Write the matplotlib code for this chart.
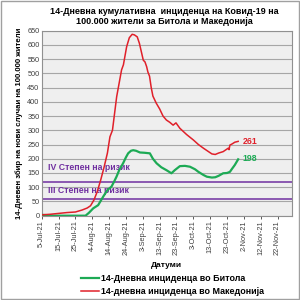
import numpy as np
import pandas as pd
import matplotlib.pyplot as plt
from matplotlib.patches import Rectangle

plt.rcParams['font.family'] = ['Liberation Sans', 'DejaVu Sans']

# days counted from 5-Jul-2021
start = pd.Timestamp('2021-07-05')

red_days = [0, 5, 10, 15, 20, 24, 27, 29, 31, 33, 35, 37, 39, 40.5, 42, 44.5, 47.4, 48.5,
            50.4, 52, 53.7, 55, 56.7, 58, 60.3, 61.3, 62.3, 63, 64, 65, 66, 68, 70, 72,
            74, 76, 78, 79.7, 82, 86, 90, 93, 96, 99, 101, 103, 105, 107.7, 110.7, 111.2,
            111.7, 113, 114.6, 116.6]
red_vals = [3, 5, 8, 11, 13, 20, 27, 35, 55, 85, 125, 170, 220, 277, 300, 418, 512, 530,
            593, 625, 637, 635, 628, 605, 546, 540, 523, 505, 490, 450, 420, 395, 375, 350,
            336, 328, 318, 326, 307, 285, 266, 250, 237, 225, 217, 215, 220, 225, 237, 232,
            248, 252, 258, 261]

green_days = [0, 3, 7, 26, 28, 30.6, 33.5, 36.5, 39, 41.4, 43, 44.4, 46, 48.3, 50, 51.3,
              53, 54.3, 56, 58.3, 61, 64.2, 66, 68.2, 71, 74, 77, 79, 82, 85, 88, 91, 93,
              96, 98, 101, 103, 105, 107.7, 110, 111.7, 113, 114.6, 116.6]
green_vals = [3, 2, 0, 0, 10, 26, 37, 67, 90, 102, 120, 137, 160, 184, 205, 219,
              228, 230, 228, 222, 221, 219, 200, 184, 170, 160, 149, 160, 174, 175, 172, 163, 154,
              143, 137, 134, 135, 140, 149, 150, 154, 165, 178, 198]

risk_levels = [120, 60]
risk_labels = ['IV Степен на ризик', 'III Степен на ризик']

red_dates = [start + pd.Timedelta(days=d) for d in red_days]
green_dates = [start + pd.Timedelta(days=d) for d in green_days]

fig = plt.figure(figsize=(3, 3), dpi=100)
fig.patches.append(Rectangle((0.002, 0.002), 0.996, 0.996, transform=fig.transFigure,
                             fill=False, ec='#A0A0A0', lw=1))
ax = fig.add_axes([0.139, 0.281, 0.834, 0.617])
ax.set_facecolor('#EFEFEF')

purple = '#7030A0'
for lvl in risk_levels:
    ax.axhline(lvl, color=purple, lw=1.1, zorder=2)
ax.text(start + pd.Timedelta(days=4), 170, risk_labels[0], color=purple,
        fontsize=6.3, fontweight='bold', va='center', zorder=3)
ax.text(start + pd.Timedelta(days=4), 89, risk_labels[1], color=purple,
        fontsize=6.3, fontweight='bold', va='center', zorder=3)

ax.plot(green_dates, green_vals, color='#1DAA55', lw=1.6, zorder=4,
        label='14-Дневна инциденца во Битола')
ax.plot(red_dates, red_vals, color='#E0202A', lw=1.1, zorder=5,
        label='14-дневна инциденца во Македонија')

ax.text(red_dates[-1] + pd.Timedelta(days=2.5), red_vals[-1], str(red_vals[-1]),
        color='#E0202A', fontsize=6.3, fontweight='bold', va='center')
ax.text(green_dates[-1] + pd.Timedelta(days=2.5), green_vals[-1] + 3, str(green_vals[-1]),
        color='#1DAA55', fontsize=6.3, fontweight='bold', va='center')

ax.set_ylim(0, 650)
ax.set_yticks(np.arange(0, 651, 50))
ax.set_xlim(start, start + pd.Timedelta(days=148.5))
ticks = [start + pd.Timedelta(days=10 * i) for i in range(15)]
ax.set_xticks(ticks)
ax.set_xticklabels([t.strftime('%-d-%b-%y') for t in ticks], rotation=90)
ax.grid(axis='y', color='#A6A6A6', lw=0.8)
ax.set_axisbelow(True)
ax.tick_params(labelsize=5.3, colors='#404040', length=2, width=0.6, pad=1.5)
ax.tick_params(axis='y', length=0)
for s in ax.spines.values():
    s.set_color('#909090')
    s.set_linewidth(0.8)

ax.set_ylabel('14-Дневен збир на нови случаи на 100.000 жители', fontsize=5.6,
              fontweight='bold', labelpad=3)
ax.set_xlabel('Датуми', fontsize=6, fontweight='bold', labelpad=5)

fig.text(0.547, 0.945, '14-Дневна кумулативна  инциденца на Ковид-19 на\n100.000 жители за Битола и Македонија',
         ha='center', va='center', fontsize=6.5, fontweight='bold', linespacing=1.2)

fig.legend(loc='center left', bbox_to_anchor=(0.27, 0.05), frameon=False,
           prop={'weight': 'bold', 'size': 6.4}, handlelength=2.0, labelspacing=0.45,
           handletextpad=0.3, borderpad=0, borderaxespad=0)

fig.savefig('out.png', dpi=100)
